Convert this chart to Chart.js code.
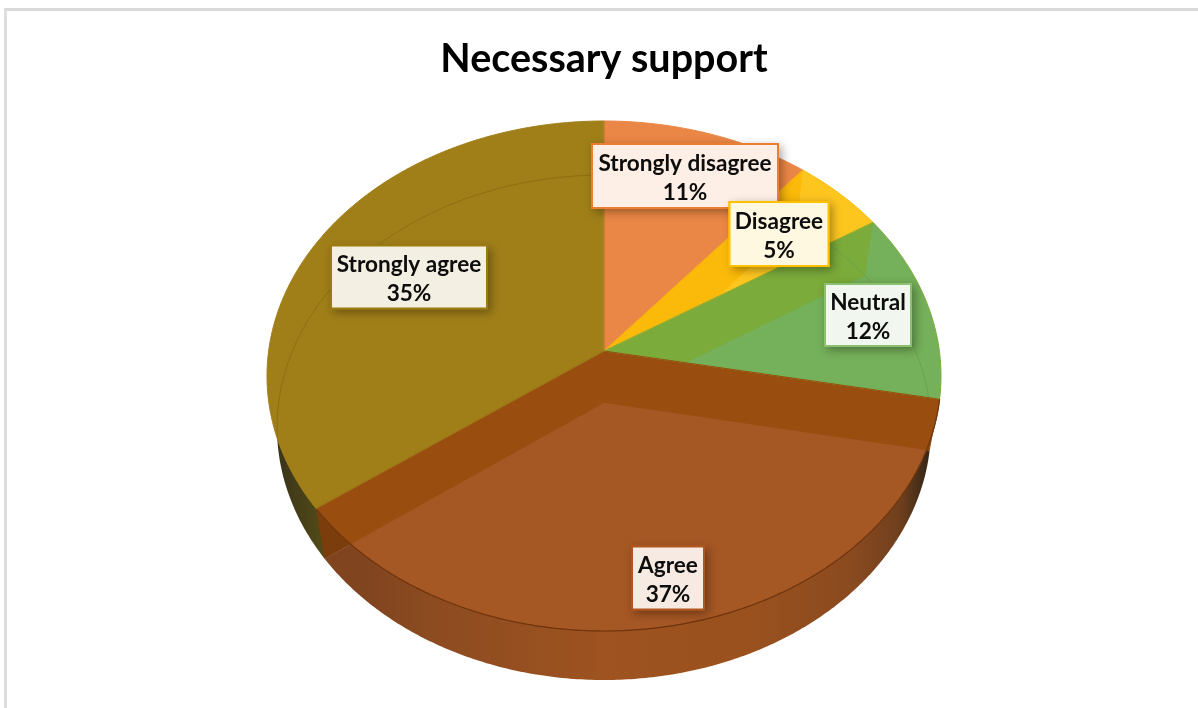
<!DOCTYPE html>
<html>
<head>
<meta charset="utf-8">
<title>Necessary support</title>
<script src="https://cdn.jsdelivr.net/npm/chart.js@4/dist/chart.umd.js"></script>
<style>
    html, body { margin: 0; padding: 0; background: #fff; overflow: hidden; }
    #frame { position: absolute; left: 4px; top: 8px; right: 0; bottom: 0; border-top: 3px solid #dadada; border-left: 3px solid #dedede; }
    #chart-box { position: absolute; left: 0; top: 0; width: 1198px; height: 708px; }
</style>
</head>
<body>
<div id="frame"></div>
<div id="chart-box"><canvas id="support-chart"></canvas></div>
<script>
const categories = ['Strongly disagree', 'Disagree', 'Neutral', 'Agree', 'Strongly agree'];
const percentages = [11, 5, 12, 37, 35];

const faceColors = ['#eb8746', '#fdc61f', '#75b05a', '#a55724', '#a07f19'];
const wallColors = ['#eb8746', '#fbb909', '#7bab3a', '#994e10', '#a07f19'];
const cutColors = ['#a07f19', '#c98a20', '#7bab3a', '#8a4a10', '#7b3d0b'];
const ringColors = [null, '#f2b70f', '#69a34c', null, '#8d6f12'];
const labelBorders = ['#ed7d31', '#ffc000', '#8dbf70', '#b0561e', '#9c7a10'];
const sideStops = [
    null, null, null,
    [[0.14, '#80441f'], [0.23, '#8c4b20'], [0.5, '#9e5320'], [0.72, '#9a511e'], [0.88, '#8a4a1f'], [0.955, '#6e3f1d'], [0.99, '#3b2a17']],
    [[0, '#39341a'], [0.06, '#4f4717'], [0.15, '#7f6c18']]
];
// centre of each value box, in canvas pixels
const labelBoxes = [
    { x: 685, y: 176, w: 188, h: 66 },
    { x: 779, y: 234, w: 101, h: 66 },
    { x: 868, y: 315, w: 88, h: 64 },
    { x: 668, y: 578, w: 74, h: 65 },
    { x: 409, y: 277, w: 158, h: 65 }
];

// the disc is seen in perspective, so the hub sits above the middle of the ellipse
const tilt = -0.098;
const stretch = 337 / 255;
const lowerDrop = 51.5;
const lowerWidth = 327 / 337;
const lowerHeight = 252.5 / 255;

function project(disc, angle) {
    const x = Math.cos(angle);
    const y = Math.sin(angle);
    const d = 1 + tilt * y;
    return {
        x: disc.cx + disc.rx * x * Math.sqrt(1 - tilt * tilt) / d,
        y: disc.cy + disc.ry * (y + tilt) / d
    };
}

function hub(disc) {
    return { x: disc.cx, y: disc.cy + disc.ry * tilt };
}

function sectorPath(ctx, disc, start, end) {
    const h = hub(disc);
    ctx.beginPath();
    ctx.moveTo(h.x, h.y);
    const steps = Math.max(2, Math.ceil((end - start) / 0.01));
    for (let s = 0; s <= steps; s++) {
        const p = project(disc, start + (end - start) * s / steps);
        ctx.lineTo(p.x, p.y);
    }
    ctx.closePath();
}

function wallPath(ctx, top, bottom, angle) {
    const a = hub(top);
    const b = project(top, angle);
    const c = project(bottom, angle);
    const d = hub(bottom);
    ctx.beginPath();
    ctx.moveTo(a.x, a.y);
    ctx.lineTo(b.x, b.y);
    ctx.lineTo(c.x, c.y);
    ctx.lineTo(d.x, d.y);
    ctx.closePath();
}

const piePerspective = {
    id: 'piePerspective',
    beforeDatasetDraw(chart, args) {
        const ctx = chart.ctx;
        const arcs = args.meta.data;
        const first = arcs[0];
        const top = { cx: first.x, cy: first.y, rx: first.outerRadius * stretch, ry: first.outerRadius };
        const bottom = { cx: top.cx, cy: top.cy + lowerDrop, rx: top.rx * lowerWidth, ry: top.ry * lowerHeight };

        ctx.save();

        // outer rim, only seen below the top face
        arcs.forEach((arc, i) => {
            sectorPath(ctx, bottom, arc.startAngle, arc.endAngle);
            if (sideStops[i]) {
                const grad = ctx.createLinearGradient(bottom.cx - bottom.rx, 0, bottom.cx + bottom.rx, 0);
                sideStops[i].forEach(stop => grad.addColorStop(stop[0], stop[1]));
                ctx.fillStyle = grad;
            } else {
                ctx.fillStyle = wallColors[i];
            }
            ctx.fill();
        });
        arcs.forEach((arc, i) => {
            wallPath(ctx, top, bottom, arc.startAngle);
            ctx.fillStyle = cutColors[i];
            ctx.fill();
        });

        // translucent top face: the cut walls and the lower ring show through
        arcs.forEach((arc, i) => {
            ctx.save();
            sectorPath(ctx, top, arc.startAngle, arc.endAngle);
            ctx.fillStyle = faceColors[i];
            ctx.fill();
            ctx.clip();
            [arc.startAngle, arc.endAngle].forEach(angle => {
                wallPath(ctx, top, bottom, angle);
                ctx.fillStyle = wallColors[i];
                ctx.fill();
            });
            if (ringColors[i]) {
                ctx.beginPath();
                ctx.ellipse(bottom.cx, bottom.cy, bottom.rx, bottom.ry, 0, 0, Math.PI * 2);
                ctx.strokeStyle = ringColors[i];
                ctx.lineWidth = 1;
                ctx.stroke();
            }
            ctx.restore();
        });

        // darker seam where the slices meet, then the front lip
        arcs.forEach((arc, i) => {
            sectorPath(ctx, top, arc.startAngle, arc.endAngle);
            ctx.strokeStyle = wallColors[i];
            ctx.lineWidth = 1;
            ctx.stroke();
        });
        const front = arcs[3];
        ctx.beginPath();
        for (let a = front.startAngle; a <= front.endAngle; a += 0.01) {
            const p = project(top, a);
            if (a === front.startAngle) ctx.moveTo(p.x, p.y);
            else ctx.lineTo(p.x, p.y);
        }
        ctx.strokeStyle = '#6f3510';
        ctx.lineWidth = 1.2;
        ctx.stroke();

        ctx.restore();
        return false;
    },
    afterDatasetsDraw(chart) {
        const ctx = chart.ctx;
        ctx.save();
        labelBoxes.forEach((box, i) => {
            const left = box.x - box.w / 2;
            const topEdge = box.y - box.h / 2;
            ctx.save();
            ctx.shadowColor = 'rgba(0, 0, 0, 0.35)';
            ctx.shadowBlur = 9;
            ctx.shadowOffsetX = 3;
            ctx.shadowOffsetY = 3;
            ctx.fillStyle = labelBorders[i];
            ctx.fillRect(left, topEdge, box.w, box.h);
            ctx.restore();
            ctx.fillStyle = labelBorders[i];
            ctx.fillRect(left, topEdge, box.w, box.h);
            ctx.fillStyle = 'rgba(255, 255, 255, 0.88)';
            ctx.fillRect(left + 2, topEdge + 2, box.w - 4, box.h - 4);
            ctx.fillStyle = '#0d0d0d';
            ctx.font = 'bold 22.6px Lato';
            ctx.textAlign = 'center';
            ctx.textBaseline = 'middle';
            ctx.fillText(categories[i], box.x, box.y - 12.5);
            ctx.fillText(percentages[i] + '%', box.x, box.y + 17);
        });
        ctx.restore();
    }
};

new Chart(document.getElementById('support-chart'), {
    type: 'pie',
    plugins: [piePerspective],
    data: {
        labels: categories,
        datasets: [{
            data: percentages,
            backgroundColor: faceColors,
            borderWidth: 0,
            hoverBorderWidth: 0
        }]
    },
    options: {
        responsive: true,
        maintainAspectRatio: false,
        animation: false,
        events: [],
        layout: { padding: { left: 349, right: 339, top: 0, bottom: 77 } },
        plugins: {
            legend: { display: false },
            tooltip: { enabled: false },
            title: {
                display: true,
                fullSize: false,
                text: 'Necessary support',
                color: '#000',
                font: { family: 'Lato', size: 39.5, weight: 'bold', lineHeight: 1.2 },
                padding: { top: 36, bottom: 37.6 }
            }
        }
    }
});
</script>
</body>
</html>
